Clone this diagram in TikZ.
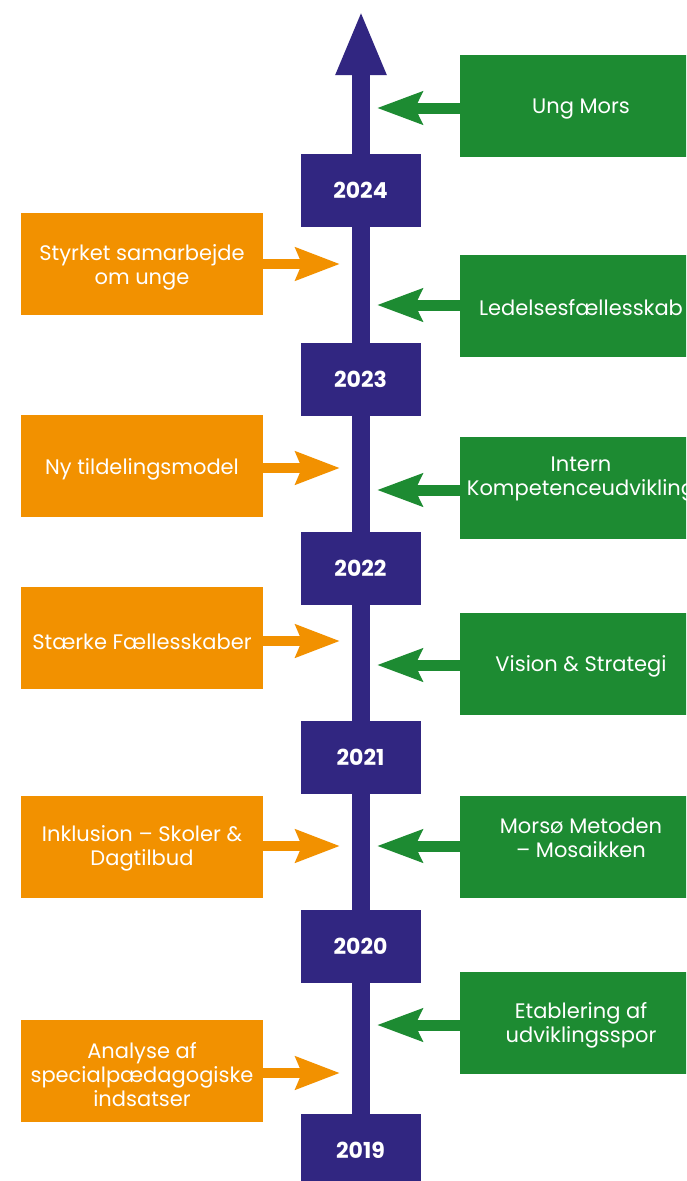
\documentclass[tikz,border=0pt]{standalone}
\usepackage{fontspec}
\setmainfont{Poppins}
\usetikzlibrary{arrows.meta}
\definecolor{tlpurple}{HTML}{312681}
\definecolor{tlorange}{HTML}{F29100}
\definecolor{tlgreen}{HTML}{1D8B32}
\tikzset{
  yearbox/.style={fill=tlpurple, minimum width=120pt, minimum height=73pt, inner sep=0pt, text=white, font=\fontsize{22}{26}\selectfont\bfseries},
  obox/.style={fill=tlorange, minimum width=242pt, minimum height=102pt, inner sep=0pt},
  gbox/.style={fill=tlgreen, minimum width=242pt, minimum height=102pt, inner sep=0pt},
  boxtext/.style={text=white, align=center, inner sep=0pt, yshift=-2.5pt, font=\fontsize{21}{24}\selectfont},
  oarrow/.style={draw=tlorange, line width=10pt, -{Stealth[length=44pt, width=32pt, inset=6pt]}},
  garrow/.style={draw=tlgreen, line width=11pt, -{Stealth[length=45pt, width=32pt, inset=7pt]}},
  timeline/.style={draw=tlpurple, line width=18pt, -{Triangle[length=65pt, width=46pt]}}
}
\begin{document}
\begin{tikzpicture}[x=1pt,y=-1pt]
\useasboundingbox (0,0) rectangle (686,1181);
\clip (0,0) rectangle (686,1181);
\fill[white] (0,0) rectangle (686,1181);
% timeline
\coordinate (bottom) at (361,1160);
\coordinate (top) at (361,10);
\draw[timeline] (bottom) -- (top);
% year boxes
\node[yearbox] (y2024) at (360.5,190.5) {2024};
\node[yearbox] (y2023) at (360.5,379) {2023};
\node[yearbox] (y2022) at (360.5,568) {2022};
\node[yearbox] (y2021) at (360.5,757.5) {2021};
\node[yearbox] (y2020) at (360.5,946.5) {2020};
\node[yearbox] (y2019) at (360.5,1150.5) {2019};
% orange boxes
\node[obox] (o1) at (142,264) {};
\node[boxtext] (o1t) at (142,265) {Styrket samarbejde\\om unge};
\node[obox] (o2) at (142,466) {};
\node[boxtext] (o2t) at (142,467) {Ny tildelingsmodel};
\node[obox] (o3) at (142,637.5) {};
\node[boxtext] (o3t) at (142,639) {Stærke Fællesskaber};
\node[obox] (o4) at (142,846.5) {};
\node[boxtext] (o4t) at (142,846) {Inklusion – Skoler \&\\Dagtilbud};
\node[obox] (o5) at (142,1071) {};
\node[boxtext] (o5t) at (142,1072) {Analyse af\\specialpædagogiske\\indsatser};
% orange arrow tips
\coordinate (ot1) at (340,264);
\coordinate (ot2) at (340,468);
\coordinate (ot3) at (340,641);
\coordinate (ot4) at (340,846);
\coordinate (ot5) at (340,1073);
\foreach \i in {1,...,5} { \draw[oarrow] (o\i.east |- ot\i) -- (ot\i); }
% green boxes
\node[gbox] (g1) at (581,106) {};
\node[boxtext] (g1t) at (581,107) {Ung Mors};
\node[gbox] (g2) at (581,306) {};
\node[boxtext] (g2t) at (581,305) {Ledelsesfællesskab};
\node[gbox] (g3) at (581,487.5) {};
\node[boxtext] (g3t) at (581,477) {Intern\\Kompetenceudvikling};
\node[gbox] (g4) at (581,664) {};
\node[boxtext] (g4t) at (581,664) {Vision \& Strategi};
\node[gbox] (g5) at (581,846.5) {};
\node[boxtext] (g5t) at (581,835) {Morsø Metoden\\– Mosaikken};
\node[gbox] (g6) at (581,1022.5) {};
\node[boxtext] (g6t) at (581,1023) {Etablering af\\udviklingsspor};
% green arrow tips
\coordinate (gt1) at (377,108);
\coordinate (gt2) at (377,305);
\coordinate (gt3) at (377,490);
\coordinate (gt4) at (377,665);
\coordinate (gt5) at (377,846);
\coordinate (gt6) at (377,1025);
\foreach \i in {1,...,6} { \draw[garrow] (g\i.west |- gt\i) -- (gt\i); }
\end{tikzpicture}
\end{document}
